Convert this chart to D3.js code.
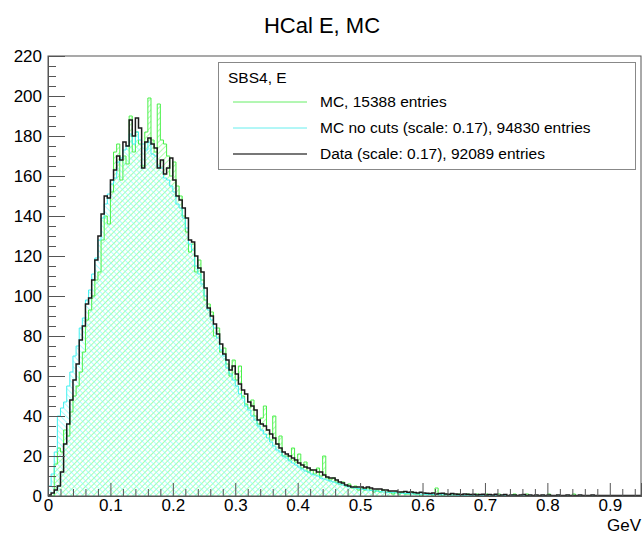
<!DOCTYPE html>
<html>
<head>
<meta charset="utf-8">
<script src="https://cdn.jsdelivr.net/npm/d3@7"></script>
<style>
  html, body { margin: 0; padding: 0; background: #fff; }
  svg { display: block; font-family: "Liberation Sans", Arial, Helvetica, sans-serif; }
</style>
</head>
<body>
<svg id="chart" width="644" height="538"></svg>
<script>
// ---------- data ----------
const binWidth = 0.005;           // GeV
const xTickLabels = ["0", "0.1", "0.2", "0.3", "0.4", "0.5", "0.6", "0.7", "0.8", "0.9"];
const yTickLabels = ["0", "20", "40", "60", "80", "100", "120", "140", "160", "180", "200", "220"];
const titleText = "HCal E, MC";
const legendHeader = "SBS4, E";
const seriesNames = ["MC, 15388 entries", "MC no cuts (scale: 0.17), 94830 entries", "Data (scale: 0.17), 92089 entries"];

// MC (green)
const mcValues = [
  0, 0, 16, 24, 22, 33, 30, 42, 50, 55,
  62, 72, 88, 93, 100, 108, 112, 128, 140, 136,
  152, 172, 176, 158, 170, 166, 190, 172, 182, 176,
  165, 182, 199, 178, 172, 196, 178, 176, 170, 160,
  167, 155, 150, 140, 132, 122, 126, 112, 118, 108,
  98, 96, 92, 80, 84, 72, 74, 66, 60, 68,
  58, 65, 50, 46, 44, 48, 40, 36, 39, 45,
  33, 28, 40, 26, 30, 20, 20, 18, 24, 17,
  21, 14, 17, 12, 13, 11, 14, 10, 20, 9,
  8, 9, 7, 6, 7, 5, 6, 4, 5, 3,
  4, 3, 4, 3, 2, 3, 2, 3, 2, 2,
  1, 2, 1, 2, 1, 1, 2, 1, 1, 0,
  1, 1, 1, 0, 4, 1, 0, 1, 0, 1,
  0, 1, 0, 0, 1, 0, 0, 1, 0, 0,
  1, 0, 0, 0, 1, 0, 0, 0, 0, 1,
  0, 0, 0, 1, 0, 0, 0, 0, 0, 0,
  1, 0, 0, 0, 0, 0, 0, 0, 1, 0,
  0, 0, 0, 0, 0, 0, 0, 0, 0, 0,
  0, 0, 0, 0, 0, 0, 0, 0, 0, 0
];

// MC no cuts, scaled (cyan)
const mcNoCutsValues = [
  5, 11, 22, 40, 44, 47, 55, 62, 70, 75,
  84, 89, 98, 103, 111, 119, 128, 139, 146, 151,
  156, 159, 167, 169, 173, 175, 181, 176, 182, 178,
  176, 173, 177, 171, 170, 165, 164, 159, 158, 155,
  152, 146, 144, 139, 134, 126, 123, 115, 111, 106,
  100, 93, 88, 84, 79, 73, 70, 64, 61, 58,
  55, 51, 49, 45, 43, 40, 38, 35, 33, 31,
  29, 27, 25, 23, 22, 20, 19, 17.5, 16.5, 15.5,
  14.5, 13.5, 12.5, 12, 11, 10.5, 10, 9, 8.5, 8,
  7.5, 7, 6.5, 6, 5.5, 5, 4.5, 4.2, 4, 3.7,
  3.4, 3.2, 3, 2.8, 2.6, 2.4, 2.2, 2, 1.9, 1.8,
  1.7, 1.6, 1.5, 1.4, 1.3, 1.2, 1.1, 1.0, 1.0, 0.9,
  0.9, 0.8, 0.8, 0.7, 0.7, 0.7, 0.6, 0.6, 0.5, 0.5,
  0.5, 0.3, 0.5, 0.3, 0.5, 0.3, 0.3, 0.5, 0.3, 0.2,
  0.3, 0.3, 0.2, 0.3, 0.2, 0.3, 0.2, 0.2, 0.3, 0.2,
  0.2, 0.2, 0.3, 0.2, 0.2, 0.2, 0.2, 0.2, 0.2, 0.2,
  0.2, 0.2, 0.2, 0.2, 0.2, 0.2, 0.2, 0.2, 0.2, 0.2,
  0.2, 0.2, 0.2, 0.2, 0.2, 0.2, 0.2, 0.2, 0.2, 0.2,
  0.2, 0.2, 0.2, 0.2, 0.2, 0.2, 0.2, 0.2, 0.2, 0.2
];

// Data, scaled (black)
const dataValues = [
  0.5, 1.5, 3, 5, 12, 26, 36, 48, 58, 66,
  78, 85, 96, 99, 108, 118, 130, 141, 150, 149,
  158, 163, 170, 168, 177, 175, 188, 180, 189, 184,
  164, 177, 179, 176, 174, 164, 168, 161, 164, 169,
  158, 150, 148, 144, 139, 128, 127, 120, 114, 112,
  104, 94, 90, 86, 81, 76, 71, 68, 63, 65,
  61, 56, 53, 51, 47, 45, 43, 38, 36, 35,
  33, 31, 29, 26, 24, 22, 21, 20, 19, 18,
  16.5, 15.5, 14.5, 14, 13, 13, 12, 12, 10.5, 9.5,
  9, 9, 8, 7, 6.5, 5.5, 5, 4.5, 4.5, 4.5,
  4.5, 4, 4.5, 4, 3.5, 3.5, 3.5, 3, 3, 2.5,
  2.5, 2.5, 2, 2, 2.2, 1.9, 2, 1.7, 1.5, 1.9,
  1.5, 1.4, 1.2, 1.5, 1.0, 1.2, 1.4, 1.0, 0.9, 1.2,
  1.0, 0.9, 0.7, 1.0, 0.9, 0.7, 0.9, 0.5, 0.7, 0.9,
  0.5, 0.7, 0.5, 0.9, 0.3, 0.5, 0.7, 0.3, 0.5, 0.5,
  0.3, 0.5, 0.7, 0.3, 0.5, 0.3, 0.5, 0.2, 0.5, 0.3,
  0.5, 0.3, 0.2, 0.5, 0.3, 0.2, 0.5, 0.3, 0.2, 0.3,
  0.5, 0.2, 0.3, 0.2, 0.5, 0.2, 0.3, 0.2, 0.3, 0.2,
  0.3, 0.2, 0.2, 0.3, 0.2, 0.2, 0.3, 0.2, 0.2, 0.2
];

// ---------- layout ----------
const svg = d3.select("#chart");
const W = 644, H = 538;
const frame = { left: 48, right: 641, top: 56, bottom: 496 };

const x = d3.scaleLinear().domain([0, 0.95]).range([frame.left, frame.right]);
const y = d3.scaleLinear().domain([0, 220]).range([frame.bottom, frame.top]);

const green = "#4af04a", greenHatch = "#7dff7d";
const cyan = "#40f0f0", cyanHatch = "#7fffff";

// hatch patterns
const defs = svg.append("defs");
function hatch(id, color, angle) {
  const p = defs.append("pattern")
    .attr("id", id).attr("patternUnits", "userSpaceOnUse")
    .attr("width", 4).attr("height", 4)
    .attr("patternTransform", `rotate(${angle})`);
  p.append("line").attr("x1", 0).attr("y1", 0).attr("x2", 0).attr("y2", 4)
    .attr("stroke", color).attr("stroke-width", 1.3);
}
hatch("hatchGreen", greenHatch, 45);
hatch("hatchCyan", cyanHatch, -45);

defs.append("clipPath").attr("id", "frameClip")
  .append("rect").attr("x", frame.left).attr("y", frame.top)
  .attr("width", frame.right - frame.left).attr("height", frame.bottom - frame.top);

function histPath(values) {
  const p = d3.path();
  p.moveTo(x(0), y(0));
  values.forEach((v, i) => {
    const lo = i * binWidth, hi = (i + 1) * binWidth;
    p.lineTo(x(lo), y(v));
    p.lineTo(x(hi), y(v));
  });
  p.lineTo(x(values.length * binWidth), y(0));
  return p.toString();
}

const plot = svg.append("g").attr("clip-path", "url(#frameClip)");

// MC (green)
plot.append("path").attr("d", histPath(mcValues) + "Z")
  .attr("fill", "url(#hatchGreen)").attr("stroke", "none");
// MC no cuts (cyan)
plot.append("path").attr("d", histPath(mcNoCutsValues) + "Z")
  .attr("fill", "url(#hatchCyan)").attr("stroke", "none");
plot.append("path").attr("d", histPath(mcValues))
  .attr("fill", "none").attr("stroke", green).attr("stroke-width", 1);
plot.append("path").attr("d", histPath(mcNoCutsValues))
  .attr("fill", "none").attr("stroke", cyan).attr("stroke-width", 1);
// Data (black)
plot.append("path").attr("d", histPath(dataValues))
  .attr("fill", "none").attr("stroke", "#1a1a1a").attr("stroke-width", 1.5);

// ---------- frame & axes ----------
const axisColor = "#555";
svg.append("rect")
  .attr("x", frame.left).attr("y", frame.top)
  .attr("width", frame.right - frame.left).attr("height", frame.bottom - frame.top)
  .attr("fill", "none").attr("stroke", axisColor).attr("stroke-width", 1);

const yMajor = yTickLabels.map(Number);
const yMinor = d3.range(0, 220.01, 5).filter(v => v % 20 !== 0);
const xMajor = xTickLabels.map(Number);
const xMinor = d3.range(0, 0.9501, 0.02).filter(v => Math.abs(v * 10 - Math.round(v * 10)) > 1e-6);

function styleAxis(g) {
  g.select(".domain").attr("stroke", axisColor);
  g.selectAll(".tick line").attr("stroke", axisColor);
  g.selectAll("text").attr("fill", "#000").style("font-size", "17px")
    .style("font-family", '"Liberation Sans", Arial, Helvetica, sans-serif');
}

svg.append("g").attr("transform", `translate(${frame.left},0)`)
  .call(d3.axisLeft(y).tickValues(yMinor).tickSize(-8).tickFormat(""))
  .call(styleAxis);
svg.append("g").attr("transform", `translate(${frame.left},0)`)
  .call(d3.axisLeft(y).tickValues(yMajor).tickSize(-17).tickPadding(6)
        .tickFormat((d, i) => yTickLabels[i]))
  .call(styleAxis);

svg.append("g").attr("transform", `translate(0,${frame.bottom})`)
  .call(d3.axisBottom(x).tickValues(xMinor).tickSize(-7).tickFormat(""))
  .call(styleAxis);
svg.append("g").attr("transform", `translate(0,${frame.bottom})`)
  .call(d3.axisBottom(x).tickValues(xMajor).tickSize(-13).tickPadding(3)
        .tickFormat((d, i) => xTickLabels[i]))
  .call(styleAxis);

svg.append("text").attr("x", frame.right).attr("y", 531)
  .attr("text-anchor", "end").style("font-size", "17px").text("GeV");

// ---------- title ----------
svg.append("text").attr("x", W / 2).attr("y", 33)
  .attr("text-anchor", "middle").style("font-size", "22px").text(titleText);

// ---------- legend ----------
const lg = svg.append("g");
lg.append("rect").attr("x", 218.5).attr("y", 62.5).attr("width", 417).attr("height", 107)
  .attr("fill", "#fff").attr("stroke", "#888").attr("stroke-width", 1);
lg.append("text").attr("x", 228).attr("y", 83).style("font-size", "15.5px").text(legendHeader);
const legendColors = ["#66ee66", "#66eeee", "#777"];
const legendWidths = [1, 1, 2];
seriesNames.forEach((name, i) => {
  const cy = 102 + i * 26;
  lg.append("line").attr("x1", 233).attr("x2", 307).attr("y1", cy).attr("y2", cy)
    .attr("stroke", legendColors[i]).attr("stroke-width", legendWidths[i]);
  lg.append("text").attr("x", 320).attr("y", cy + 5).style("font-size", "15.5px").text(name);
});
</script>
</body>
</html>
